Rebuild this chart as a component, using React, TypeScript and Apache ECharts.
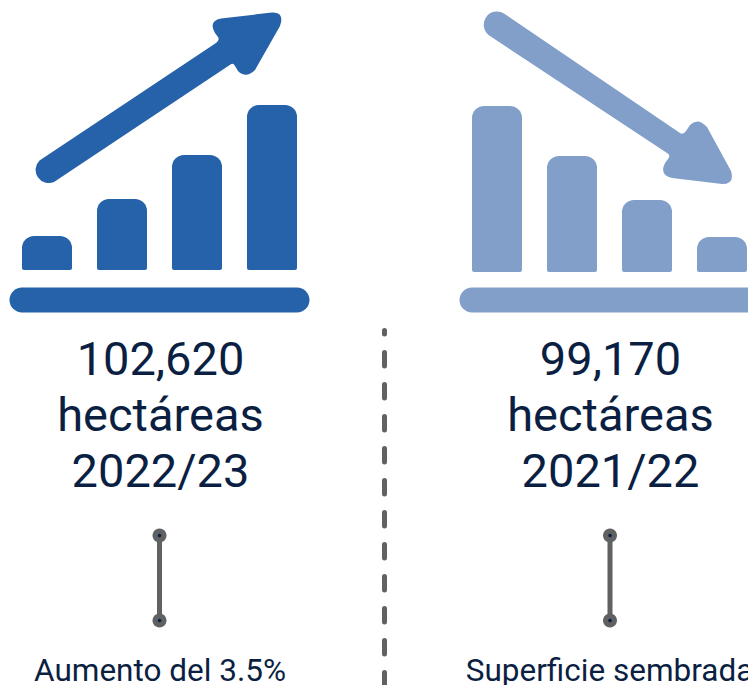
import React, { useEffect, useRef } from "react";
import * as echarts from "echarts";

const barCategories = ["1", "2", "3", "4"];
const risingValues = [34, 71, 115, 165];
const fallingValues = [166, 116, 72, 35];
const leftLabels = ["102,620", "hectáreas", "2022/23"];
const rightLabels = ["99,170", "hectáreas", "2021/22"];
const leftNote = "Aumento del 3.5%";
const rightNote = "Superficie sembrada";

const BLUE = "#2662a9";
const PALE = "#829fc9";
const NAVY = "#0b1f42";
const GREY = "#5f6163";
const FONT = "Roboto";

const upArrow =
  "M39.5 160.5 L216 43 Q220 40 218 37 L215 33 Q208 21 221 18.5 L272 12.5 Q285 12 280 26 L255 70 Q246 79 238 71 L235 66 Q233 62 229 65.5 L54 182 A13.2 13.2 0 0 1 39.5 160.5 Z";
const downArrow =
  "M490 36 L667 153 Q671 155 668 159 L665 163 Q659 175 672 178 L722 184 Q735 184 731 171 L707 127 Q698 117 690 125 L686 131 Q683 135 680 133 L504 13.5 A13.2 13.2 0 0 0 490 36 Z";

export default function App() {
  const ref = useRef<HTMLDivElement>(null);
  useEffect(() => {
    document.body.style.margin = "0";
    echarts.graphic.registerShape("upArrowIcon", (echarts.graphic as any).extendPath(upArrow, {}));
    echarts.graphic.registerShape("downArrowIcon", (echarts.graphic as any).extendPath(downArrow, {}));
    const chart = echarts.init(ref.current!, undefined, { renderer: "svg" });
    const stack = (labels: string[], x: number) =>
      labels.map((t, i) => ({
        type: "text",
        x,
        y: 358.5 + i * 56,
        style: { text: t, fill: NAVY, font: `400 47px ${FONT}`, textAlign: "center", textVerticalAlign: "middle" },
      }));
    const connector = (x: number) => [
      { type: "line", shape: { x1: x, y1: 535, x2: x, y2: 620 }, style: { stroke: GREY, lineWidth: 5 } },
      { type: "circle", shape: { cx: x, cy: 535.5, r: 7 }, style: { fill: GREY } },
      { type: "circle", shape: { cx: x, cy: 620.5, r: 7 }, style: { fill: GREY } },
      { type: "circle", shape: { cx: x, cy: 535.5, r: 1.8 }, style: { fill: NAVY } },
      { type: "circle", shape: { cx: x, cy: 620.5, r: 1.8 }, style: { fill: NAVY } },
    ];
    chart.setOption({
      animation: false,
      grid: [
        { left: 9.5, width: 300, top: 100, height: 170 },
        { left: 459.5, width: 300, top: 102, height: 170 },
      ],
      xAxis: [0, 1].map((i) => ({ type: "category", gridIndex: i, data: barCategories, show: false })),
      yAxis: [0, 1].map((i) => ({ type: "value", gridIndex: i, min: 0, max: 170, show: false })),
      series: [
        { type: "bar", xAxisIndex: 0, yAxisIndex: 0, data: risingValues, barWidth: 50, itemStyle: { color: BLUE, borderRadius: [12, 12, 2, 2] } },
        { type: "bar", xAxisIndex: 1, yAxisIndex: 1, data: fallingValues, barWidth: 50, itemStyle: { color: PALE, borderRadius: [12, 12, 2, 2] } },
      ],
      graphic: [
        { type: "upArrowIcon", style: { fill: BLUE } },
        { type: "downArrowIcon", style: { fill: PALE } },
        { type: "rect", shape: { x: 9.5, y: 287.5, width: 300, height: 25, r: 12.5 }, style: { fill: BLUE } },
        { type: "rect", shape: { x: 459.5, y: 287.5, width: 320, height: 25, r: 12.5 }, style: { fill: PALE } },
        ...stack(leftLabels, 160.5),
        ...stack(rightLabels, 610.5),
        ...connector(159.5),
        ...connector(610),
        { type: "line", shape: { x1: 384.5, y1: 330.5, x2: 384.5, y2: 690 }, style: { stroke: GREY, lineWidth: 5, lineCap: "round", lineDash: [13.5, 18.5], lineDashOffset: 9.5 } },
        { type: "text", x: 160, y: 670, style: { text: leftNote, fill: NAVY, font: `400 31.5px ${FONT}`, textAlign: "center", textVerticalAlign: "middle" } },
        { type: "text", x: 609.5, y: 670, style: { text: rightNote, fill: NAVY, font: `400 31.5px ${FONT}`, textAlign: "center", textVerticalAlign: "middle" } },
      ],
    });
    return () => chart.dispose();
  }, []);
  return (
    <div style={{ width: 748, height: 685, overflow: "hidden" }}>
      <div ref={ref} style={{ width: 800, height: 700 }} />
    </div>
  );
}
